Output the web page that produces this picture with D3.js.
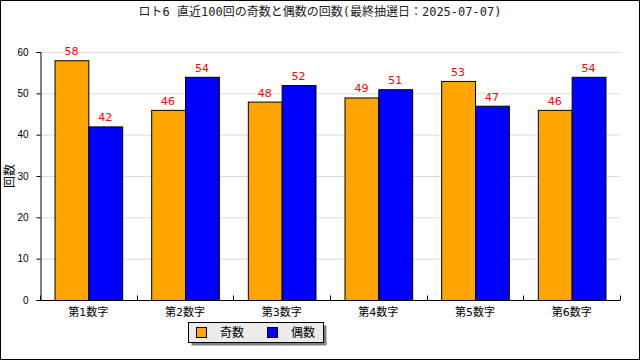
<!DOCTYPE html>
<html>
<head>
<meta charset="utf-8">
<script src="https://cdn.jsdelivr.net/npm/d3@7"></script>
<style>
  body { margin: 0; background: #fff; }
  svg { display: block; font-family: "DejaVu Sans", "Noto Sans CJK JP", sans-serif; }
</style>
</head>
<body>
<svg id="chart" width="640" height="360"></svg>
<script>
// データ
const categories = ["第1数字", "第2数字", "第3数字", "第4数字", "第5数字", "第6数字"];
const seriesNames = ["奇数", "偶数"];
const oddCounts = [58, 46, 48, 49, 53, 46];
const evenCounts = [42, 54, 52, 51, 47, 54];
const yTicks = [0, 10, 20, 30, 40, 50, 60];
const colors = ["#ffa500", "#0000ff"];

const W = 640, H = 360;
const margin = { left: 40, right: 20, top: 52, bottom: 60 };

const svg = d3.select("#chart");

// 外枠
svg.append("rect")
  .attr("x", 0.5).attr("y", 0.5)
  .attr("width", W - 1).attr("height", H - 1)
  .attr("fill", "#fff").attr("stroke", "#000");

// タイトル
svg.append("text")
  .attr("x", 320).attr("y", 16)
  .attr("text-anchor", "middle")
  .attr("font-size", 12)
  .attr("font-family", "'DejaVu Sans Mono', 'Noto Sans CJK JP', monospace")
  .attr("fill", "#222")
  .text("ロト6 直近100回の奇数と偶数の回数(最終抽選日：2025-07-07)");

const x0 = d3.scaleBand()
  .domain(categories)
  .range([margin.left, W - margin.right])
  .paddingInner(0.3)
  .paddingOuter(0.15);

const x1 = d3.scaleBand()
  .domain(seriesNames)
  .range([0, x0.bandwidth()]);

const y = d3.scaleLinear()
  .domain([0, 60])
  .range([H - margin.bottom, margin.top]);

// グリッド
svg.append("g")
  .selectAll("line")
  .data(yTicks.filter(d => d > 0))
  .join("line")
  .attr("x1", margin.left).attr("x2", W - margin.right)
  .attr("y1", d => y(d) + 0.5).attr("y2", d => y(d) + 0.5)
  .attr("stroke", "#dcdcdc");

// Y軸
const yAxis = svg.append("g")
  .attr("transform", `translate(${margin.left + 0.5},0)`)
  .call(d3.axisLeft(y).tickValues(yTicks).tickSize(4).tickPadding(8));
yAxis.selectAll("text").attr("font-size", 10).attr("fill", "#000");
yAxis.selectAll("line, path").attr("stroke", "#000");

// X軸 (グループ境界に目盛り)
const xAxisY = y(0) + 0.5;
svg.append("line")
  .attr("x1", margin.left).attr("x2", W - margin.right)
  .attr("y1", xAxisY).attr("y2", xAxisY)
  .attr("stroke", "#000");
const step = (W - margin.right - margin.left) / categories.length;
svg.append("g")
  .selectAll("line")
  .data(d3.range(categories.length + 1))
  .join("line")
  .attr("x1", i => Math.round(margin.left + i * step) + 0.5)
  .attr("x2", i => Math.round(margin.left + i * step) + 0.5)
  .attr("y1", xAxisY - 5).attr("y2", xAxisY)
  .attr("stroke", "#000");
svg.append("g")
  .selectAll("text")
  .data(categories)
  .join("text")
  .attr("x", d => x0(d) + x0.bandwidth() / 2)
  .attr("y", xAxisY + 15)
  .attr("text-anchor", "middle")
  .attr("font-size", 11)
  .attr("fill", "#000")
  .text(d => d);

// Y軸タイトル
svg.append("text")
  .attr("transform", `translate(14,${(margin.top + y(0)) / 2}) rotate(-90)`)
  .attr("text-anchor", "middle")
  .attr("font-size", 12)
  .attr("fill", "#000")
  .text("回数");

// 棒
const rows = categories.map((c, i) => ({ cat: c, vals: [oddCounts[i], evenCounts[i]] }));
const groups = svg.append("g")
  .selectAll("g")
  .data(rows)
  .join("g")
  .attr("transform", d => `translate(${x0(d.cat)},0)`);

groups.selectAll("rect")
  .data(d => d.vals.map((v, k) => ({ name: seriesNames[k], v, k })))
  .join("rect")
  .attr("x", d => x1(d.name) + 0.5)
  .attr("y", d => y(d.v) + 0.5)
  .attr("width", x1.bandwidth())
  .attr("height", d => y(0) - y(d.v))
  .attr("fill", d => colors[d.k])
  .attr("stroke", "#000");

groups.selectAll("text")
  .data(d => d.vals.map((v, k) => ({ name: seriesNames[k], v, k })))
  .join("text")
  .attr("x", d => x1(d.name) + x1.bandwidth() / 2)
  .attr("y", d => y(d.v) - 5)
  .attr("text-anchor", "middle")
  .attr("font-size", 11)
  .attr("fill", "#ff0000")
  .text(d => d.v);

// 凡例
const lg = svg.append("g").attr("transform", "translate(188,322)");
lg.append("rect")
  .attr("x", 3.5).attr("y", 3.5).attr("width", 135).attr("height", 20)
  .attr("fill", "#808080");
lg.append("rect")
  .attr("x", 0.5).attr("y", 0.5).attr("width", 135).attr("height", 20)
  .attr("fill", "#ebebeb").attr("stroke", "#000");
seriesNames.forEach((n, k) => {
  const gx = 8 + k * 71;
  lg.append("rect")
    .attr("x", gx + 0.5).attr("y", 5.5).attr("width", 10).attr("height", 10)
    .attr("fill", colors[k]).attr("stroke", "#000");
  lg.append("text")
    .attr("x", gx + 24).attr("y", 15)
    .attr("font-size", 12)
    .attr("fill", "#000")
    .text(n);
});
</script>
</body>
</html>
